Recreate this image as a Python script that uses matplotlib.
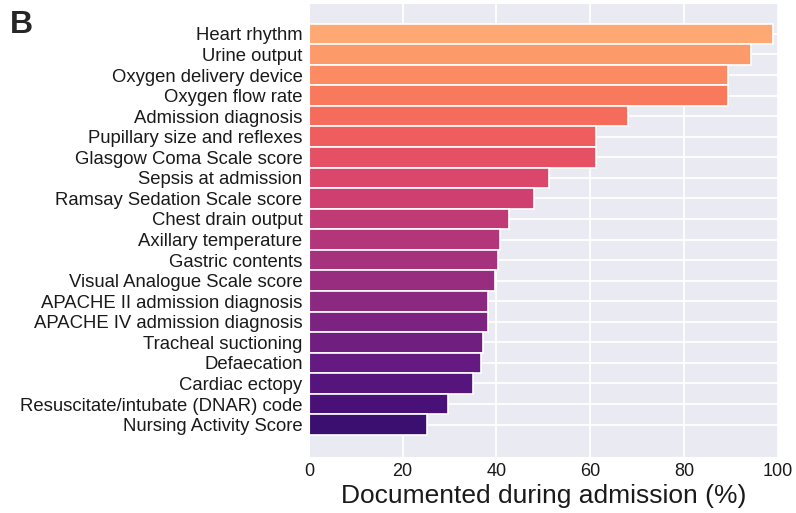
import numpy as np
import matplotlib
matplotlib.use('Agg')
import matplotlib.pyplot as plt
import seaborn as sns

# Share of admissions in which each item was documented (%)
items = ['Heart rhythm', 'Urine output', 'Oxygen delivery device', 'Oxygen flow rate',
         'Admission diagnosis', 'Pupillary size and reflexes', 'Glasgow Coma Scale score',
         'Sepsis at admission', 'Ramsay Sedation Scale score', 'Chest drain output',
         'Axillary temperature', 'Gastric contents', 'Visual Analogue Scale score',
         'APACHE II admission diagnosis', 'APACHE IV admission diagnosis',
         'Tracheal suctioning', 'Defaecation', 'Cardiac ectopy',
         'Resuscitate/intubate (DNAR) code', 'Nursing Activity Score']
documented = [99.0, 94.4, 89.3, 89.3, 68.1, 61.3, 61.3, 51.2, 48.0, 42.6,
              40.8, 40.4, 39.7, 38.3, 38.3, 37.2, 36.8, 35.1, 29.6, 25.2]
xticks = [0, 20, 40, 60, 80, 100]

sns.set_style('darkgrid')
plt.rcParams['font.family'] = ['Liberation Sans', 'DejaVu Sans']

fig = plt.figure(figsize=(7.96, 5.13), dpi=100)
ax = fig.add_axes([0.388, 0.109, 0.589, 0.885])

colors = plt.cm.magma(np.linspace(0.82, 0.2, len(items)))
y = np.arange(len(items))
ax.barh(y, documented, height=1.0, color=colors, edgecolor='white', linewidth=1.2)

ax.set_yticks(y)
ax.set_yticklabels(items, fontsize=13.3)
ax.set_ylim(len(items) - 1 + 1.58, -1.5)
ax.set_xlim(0, 100)
ax.set_xticks(xticks)
ax.set_xticklabels([str(t) for t in xticks], fontsize=13)
ax.tick_params(axis='y', colors='#1a1a1a', pad=1)
ax.tick_params(axis='x', colors='#1a1a1a', pad=1)
ax.set_xlabel('Documented during admission (%)', fontsize=19, color='#1a1a1a', labelpad=3)
ax.grid(color='white', linewidth=1.3)

fig.text(0.012, 0.98, 'B', fontsize=23, fontweight='bold', va='top', ha='left')

plt.savefig('out.png', dpi=100)
